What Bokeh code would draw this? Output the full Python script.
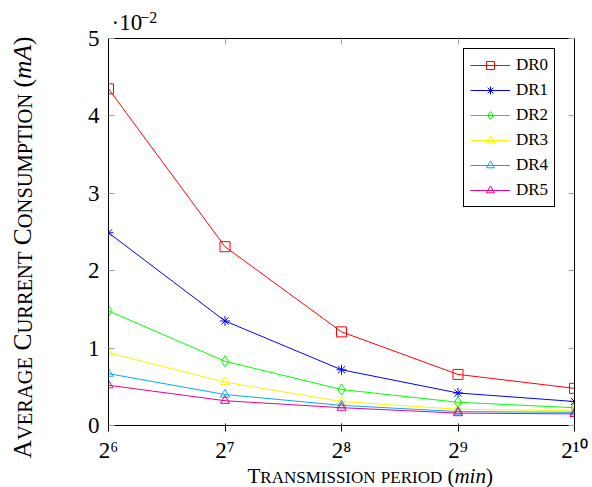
import math
from bokeh.plotting import figure
from bokeh.layouts import row, column
from bokeh.models import (ColumnDataSource, FixedTicker, LogAxis, LinearAxis,
                          Legend, LegendItem, CustomJSTickFormatter, Range1d)
from bokeh.core.properties import field, value
from bokeh.embed import file_html
from bokeh.resources import INLINE

# ---------------- data ----------------
periods = [64, 128, 256, 512, 1024]          # transmission period (min)
tick_exponents = ["6", "7", "8", "9", "10"]  # x tick labels 2^n
y_ticks = [0, 1, 2, 3, 4, 5]                 # in units of 1e-2 mA
y_tick_labels = ["0", "1", "2", "3", "4", "5"]
dr0 = [4.35, 2.31, 1.21, 0.66, 0.48]
dr1 = [2.49, 1.35, 0.72, 0.42, 0.31]
dr2 = [1.48, 0.83, 0.465, 0.30, 0.23]
dr3 = [0.94, 0.56, 0.31, 0.21, 0.19]
dr4 = [0.67, 0.40, 0.26, 0.18, 0.17]
dr5 = [0.52, 0.32, 0.23, 0.16, 0.15]
series_names = ["DR0", "DR1", "DR2", "DR3", "DR4", "DR5"]
series_values = [dr0, dr1, dr2, dr3, dr4, dr5]
colors = ["#ff0000", "#0000ff", "#00ff00", "#fff200", "#00aeef", "#ec008c"]
markers = ["square", "asterisk", "diamond", "triangle", "triangle", "triangle"]
marker_sizes = [10, 10, 11, 9, 9, 9]

FONT = "'Liberation Serif', 'Times New Roman', serif"
SUP = str.maketrans("0123456789-", "⁰¹²³⁴⁵⁶⁷⁸⁹⁻")
MID = 0.3375   # distance (in em) from the alphabetic baseline up to the em-box middle

# Times-like advance widths (per 1000 em) for width estimates of small-caps text
W = {" ": 250, "(": 333, ")": 333, "A": 722, "C": 667, "D": 722, "E": 611, "G": 722,
     "I": 333, "M": 889, "N": 722, "O": 722, "P": 556, "R": 667, "S": 556, "T": 611,
     "U": 722, "V": 722, "m": 778, "i": 278, "n": 500, "0": 500, "1": 500, "2": 500,
     "·": 250, "−": 564}
W_IT = {"m": 722, "i": 278, "n": 500, "A": 611}


def text_width(s, size, italic=False):
    tab = W_IT if italic else W
    return sum(tab.get(c, W.get(c, 600)) for c in s) * size / 1000.0


# small-caps pieces: (text, font size, italic); " " = word space
XB, XS = 21, 17
x_label_parts = [("T", XB, False), ("RANSMISSION", XS, False), (" ", XB, False),
                 ("PERIOD", XS, False), (" ", XB, False),
                 ("(", XB, False), ("min", XB, True), (")", XB, False)]
YB, YS = 25.5, 20.5
y_label_parts = [("A", YB, False), ("VERAGE", YS, False), (" ", YB, False),
                 ("C", YB, False), ("URRENT", YS, False), (" ", YB, False),
                 ("C", YB, False), ("ONSUMPTION", YS, False), (" ", YB, False),
                 ("(", YB, False), ("mA", YB, True), (")", YB, False)]

# ---------------- geometry of the page (pixels) ----------------
TOTAL_W, TOTAL_H = 592, 487
LEFT_W = 60            # strip holding the rotated y title
TOP_H = 30             # strip holding the ·10^-2 factor
M_LEFT, M_RIGHT, M_TOP, M_BOTTOM = 48, 18, 8, 42
FRAME_H = 387
MAIN_W = TOTAL_W - LEFT_W
MAIN_H = M_TOP + FRAME_H + M_BOTTOM
BOT_H = TOTAL_H - TOP_H - MAIN_H
FRAME_L_ABS = LEFT_W + M_LEFT
FRAME_R_ABS = TOTAL_W - M_RIGHT


def text_strip(w, h, x0, x1, bl, br):
    # a blank figure whose horizontal axis is in page pixels (frame from x0 to x1)
    f = figure(width=w, height=h, x_range=Range1d(x0, x1), y_range=Range1d(0, h), title=None,
               min_border=0, min_border_left=bl, min_border_right=br,
               min_border_top=0, min_border_bottom=0,
               x_axis_location=None, y_axis_location=None,
               toolbar_location=None, output_backend="svg")
    f.outline_line_color = None
    f.background_fill_color = "white"
    f.border_fill_color = "white"
    f.xgrid.visible = False
    f.ygrid.visible = False
    return f


def piece_source(parts, x0, y0, vertical):
    # x0/y0: start of the alphabetic baseline; anchors are moved to the em-box middle
    d = dict(x=[], y=[], text=[], size=[], style=[])
    cur = 0.0
    for txt, sz, it in parts:
        if txt.strip():
            if vertical:
                d["x"].append(x0 - MID * sz)
                d["y"].append(y0 + cur)
            else:
                d["x"].append(x0 + cur)
                d["y"].append(y0 + MID * sz)
            d["text"].append(txt)
            d["size"].append(f"{sz}px")
            d["style"].append("italic" if it else "normal")
        cur += text_width(txt, sz, it)
    return ColumnDataSource(d)


def draw_pieces(f, src, angle=0.0):
    f.text(x="x", y="y", text="text", source=src, angle=angle,
           text_font=value(FONT), text_font_size=field("size"), text_font_style=field("style"),
           text_color="black", text_align="left", text_baseline="middle")


# ---------------- main figure ----------------
p = figure(width=MAIN_W, height=MAIN_H, x_axis_type="log", title=None,
           x_range=Range1d(periods[0], periods[-1]), y_range=Range1d(y_ticks[0], y_ticks[-1]),
           output_backend="svg", toolbar_location=None,
           min_border_left=M_LEFT, min_border_right=M_RIGHT,
           min_border_top=M_TOP, min_border_bottom=M_BOTTOM)
p.background_fill_color = "white"
p.border_fill_color = "white"
p.outline_line_color = "black"
p.outline_line_width = 1
p.xgrid.visible = False
p.ygrid.visible = False

empty_fmt = CustomJSTickFormatter(code="return ''")

p.xaxis.ticker = FixedTicker(ticks=periods)
p.xaxis.major_label_overrides = {t: "2" + e.translate(SUP) for t, e in zip(periods, tick_exponents)}
p.xaxis.major_label_text_font = FONT
p.xaxis.major_label_text_font_size = "23px"
p.xaxis.major_label_standoff = 6
p.xaxis.major_label_text_color = "black"
p.yaxis.ticker = FixedTicker(ticks=y_ticks)
p.yaxis.major_label_overrides = {t: s for t, s in zip(y_ticks, y_tick_labels)}
p.yaxis.major_label_text_font = FONT
p.yaxis.major_label_text_font_size = "23px"
p.yaxis.major_label_standoff = 9
p.yaxis.major_label_text_color = "black"

top_axis = LogAxis(ticker=FixedTicker(ticks=periods), formatter=empty_fmt)
right_axis = LinearAxis(ticker=FixedTicker(ticks=y_ticks), formatter=empty_fmt)
p.add_layout(top_axis, "above")
p.add_layout(right_axis, "right")

for ax in [p.xaxis[0], p.yaxis[0], top_axis, right_axis]:
    ax.axis_line_color = "black"
    ax.axis_line_width = 1
    ax.major_tick_in = 6
    ax.major_tick_out = 0
    ax.minor_tick_in = 0
    ax.minor_tick_out = 0
    ax.major_tick_line_color = "#a0a0a0"
    ax.major_tick_line_width = 1
for ax in [top_axis, right_axis]:
    ax.major_label_standoff = 0
    ax.axis_label_standoff = 0
    ax.major_label_text_font_size = "1px"

items = []
for name, vals, col, mk, ms in zip(series_names, series_values, colors, markers, marker_sizes):
    rl = p.line(periods, vals, line_color=col, line_width=1)
    rm = p.scatter(periods, vals, marker=mk, size=ms, line_color=col, fill_color=None, line_width=1)
    items.append(LegendItem(label=name, renderers=[rl, rm]))

legend = Legend(items=items, location=(355, 218), margin=0, padding=6, spacing=5,
                glyph_width=40, glyph_height=20, label_height=20, label_standoff=6,
                label_text_font=FONT, label_text_font_size="17px", label_text_color="black",
                border_line_color="black", border_line_width=1, border_line_alpha=1,
                background_fill_color="white", background_fill_alpha=1)
p.add_layout(legend)

# ---------------- strips with the outer texts ----------------
# y title, rotated, baseline at x=31, starting 458 px from the top of the page
left_strip = text_strip(LEFT_W, TOTAL_H, 0, LEFT_W, 0, 0)
draw_pieces(left_strip, piece_source(y_label_parts, 31, TOTAL_H - 458, True), angle=math.pi / 2)

# ·10^-2 above the frame (baselines 30 and 22 px from the top of the page)
top_strip = text_strip(MAIN_W, TOP_H, FRAME_L_ABS, FRAME_R_ABS, M_LEFT, M_RIGHT)
fx = FRAME_L_ABS + 3
top_strip.text(x=[fx], y=[TOP_H - 30 + MID * 23], text=["·10"], text_font=value(FONT),
               text_font_size="23px", text_color="black", text_baseline="middle",
               text_align="left")
top_strip.text(x=[fx + text_width("·10", 23)], y=[TOP_H - 22 + MID * 16], text=["−2"],
               text_font=value(FONT), text_font_size="16px", text_color="black",
               text_baseline="middle", text_align="left")

# x title below the tick labels (baseline 483 px from the top of the page)
bottom_strip = text_strip(MAIN_W, BOT_H, FRAME_L_ABS, FRAME_R_ABS, M_LEFT, M_RIGHT)
draw_pieces(bottom_strip, piece_source(x_label_parts, 247, TOTAL_H - 483, False))

layout = row(left_strip, column(top_strip, p, bottom_strip, spacing=0), spacing=0)

open("out.html", "w").write(file_html(layout, INLINE))
